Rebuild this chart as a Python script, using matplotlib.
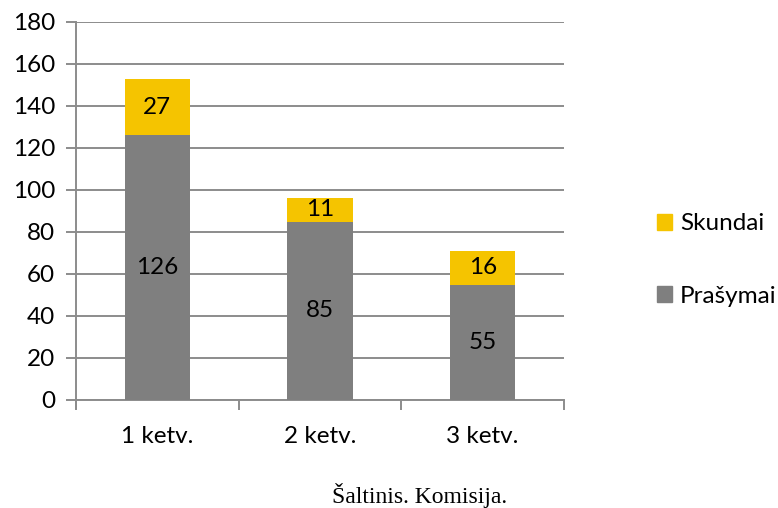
import matplotlib
matplotlib.use("Agg")
import matplotlib.pyplot as plt
from matplotlib.patches import Patch

categories = ["1 ketv.", "2 ketv.", "3 ketv."]
prasymai = [126, 85, 55]
skundai = [27, 11, 16]
yticks = [0, 20, 40, 60, 80, 100, 120, 140, 160, 180]

gray = "#7F7F7F"
gold = "#F5C400"
grid_c = "#8C8C8C"
font = "Lato"
fs = 17.5

fig = plt.figure(figsize=(7.78, 5.08), dpi=100)
ax = fig.add_axes([76/778, 1-400/508, (564-76)/778, (400-22)/508])

x = list(range(len(categories)))
b1 = ax.bar(x, prasymai, width=0.4, color=gray, zorder=3)
b2 = ax.bar(x, skundai, width=0.4, bottom=prasymai, color=gold, zorder=3)

for xi, p, s in zip(x, prasymai, skundai):
    ax.text(xi, p/2, str(p), ha="center", va="center", fontsize=fs, family=font, color="black", zorder=4)
    ax.text(xi, p + s/2, str(s), ha="center", va="center", fontsize=fs, family=font, color="black", zorder=4)

ax.set_xlim(-0.5, 2.5)
ax.set_ylim(0, 180)
ax.set_yticks(yticks)
ax.set_yticklabels([str(v) for v in yticks], family=font, fontsize=fs)
ax.yaxis.grid(True, color=grid_c, linewidth=1.4, zorder=0)
ax.set_xticks(x)
ax.set_xticklabels(categories, family=font, fontsize=fs)
ax.set_xticks([-0.5, 0.5, 1.5, 2.5], minor=True)
ax.tick_params(axis="x", which="major", length=0, pad=19)
ax.tick_params(axis="x", which="minor", length=7, width=1.4, color=grid_c)
ax.tick_params(axis="y", length=7, width=1.4, color=grid_c, pad=8)
for s in ["top", "right"]:
    ax.spines[s].set_visible(False)
ax.spines["left"].set_color(grid_c)
ax.spines["left"].set_linewidth(1.4)
ax.spines["bottom"].set_color(grid_c)
ax.spines["bottom"].set_linewidth(1.4)
ax.spines["left"].set_bounds(-4, 180)

handles = [Patch(color=gold, label="Skundai"), Patch(color=gray, label="Prašymai")]
leg = fig.legend(handles=handles, loc="center left", bbox_to_anchor=(657/778, 1-260/508),
                 frameon=False, prop={"family": font, "size": fs},
                 handlelength=0.6, handleheight=0.6, handletextpad=0.35, labelspacing=2.1,
                 borderaxespad=0, borderpad=0)

fig.text(420/778, 1-496/508, "Šaltinis. Komisija.", ha="center", va="center",
         family="Liberation Serif", fontsize=17, color="black")

fig.savefig("out.png", dpi=100)
